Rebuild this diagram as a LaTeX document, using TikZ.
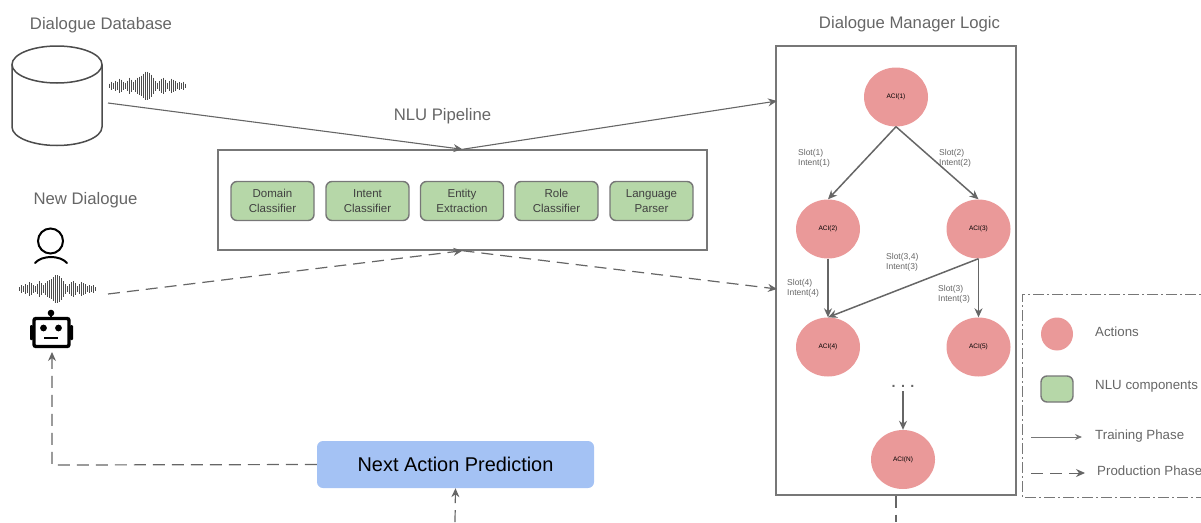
\documentclass[tikz,border=0pt]{standalone}
\usepackage{fontspec}
\setmainfont{Liberation Sans}
\usetikzlibrary{arrows.meta,shapes.geometric}
\definecolor{actfill}{HTML}{EA9999}
\definecolor{nlufill}{HTML}{B6D7A8}
\definecolor{predfill}{HTML}{A4C2F4}
\definecolor{linegray}{HTML}{666666}
\definecolor{framegray}{HTML}{777777}
\definecolor{textgray}{HTML}{666666}
\tikzset{
  title/.style={text=textgray, font=\fontsize{16.7}{20}\selectfont},
  slotlabel/.style={text=textgray, align=left, anchor=west, inner sep=0pt, font=\fontsize{8.5}{10.4}\selectfont},
  action/.style={ellipse, fill=actfill, inner sep=0pt, minimum width=64pt, minimum height=59pt, font=\fontsize{6.5}{8}\selectfont},
  nlubox/.style={draw=framegray, line width=1.4pt, rounded corners=6pt, fill=nlufill, minimum width=83pt, minimum height=39pt, inner sep=0pt, align=center, text=black!75, font=\fontsize{11.5}{14.5}\selectfont},
  frame/.style={draw=framegray, line width=1.4pt, inner sep=0pt},
  train/.style={draw=linegray, line width=1.1pt, -{Stealth[length=9pt,width=8pt]}},
  prod/.style={draw=linegray, line width=1.2pt, dash pattern=on 12pt off 7pt, -{Stealth[length=9pt,width=8pt]}},
  legendtext/.style={text=textgray, anchor=west, inner sep=0pt, font=\fontsize{13.3}{16}\selectfont},
  wave/.pic={
    \foreach \dx/\amp in {-38/2,-36/4,-34/3,-32/5,-30/4,-28/7,-26/6,-24/4,-22/3,-20/5,-18/8,-16/6,-14/4,-12/6,-10/8,-8/9,-6/10,-4/12,-2/14,0/14,2/13,4/11,6/8,8/5,10/3,12/5,14/7,16/8,18/6,20/3,22/5,24/7,26/6,28/5,30/3,32/4,34/3,36/4,38/2}
      \draw[black!70, line width=0.85pt] (\dx,-\amp) -- (\dx,\amp);
  }
}
\begin{document}
\begin{tikzpicture}[x=1pt,y=-1pt]
\useasboundingbox (0,0) rectangle (1201,522);
\node[title] (dbtitle) at (101,25.5) {Dialogue Database};
\node[title] (newtitle) at (85.5,200) {New Dialogue};
\node[title] (pipetitle) at (442.5,116) {NLU Pipeline};
\node[title] (mgrtitle) at (909.5,24) {Dialogue Manager Logic};
\draw[black!70, line width=1.5pt] (12,64.5) -- (12,127) arc[start angle=180, end angle=360, x radius=45pt, y radius=18.5pt] -- (102,64.5);
\draw[black!70, line width=1.5pt] (57,64.5) ellipse[x radius=45pt, y radius=18.5pt];
\pic at (147,85.5) {wave};
\pic at (57,289) {wave};
\draw[black, line width=2pt] (50.5,241) circle[radius=12.5pt];
\draw[black, line width=2pt, line cap=round] (35,263) .. controls (42,255) and (60,255) .. (67,263);
\draw[black, line width=3.4pt, rounded corners=2pt] (34,318.5) rectangle (69,346.5);
\fill[black, rounded corners=1pt] (30,325) rectangle (33,340);
\fill[black, rounded corners=1pt] (70,325) rectangle (73,340);
\fill[black] (51,313) circle[radius=3.3pt];
\draw[black, line width=2.4pt] (51,315) -- (51,318);
\fill[black] (43.5,328) circle[radius=3.4pt];
\fill[black] (58.5,328) circle[radius=3.4pt];
\draw[black, line width=2.4pt] (44,338) -- (58,338);
\node[frame, minimum width=489pt, minimum height=100pt] (pipeline) at (462.5,200) {};
\node[nlubox] (domain) at (272.5,201) {Domain\\Classifier};
\node[nlubox] (intent) at (367.5,201) {Intent\\Classifier};
\node[nlubox] (entity) at (462,201) {Entity\\Extraction};
\node[nlubox] (role) at (556.5,201) {Role\\Classifier};
\node[nlubox] (parser) at (651.5,201) {Language\\Parser};
\node[frame, minimum width=240pt, minimum height=449pt] (manager) at (896,270.5) {};
\node[action] (aci1) at (896,97) {ACI(1)};
\node[action] (aci2) at (828,229) {ACI(2)};
\node[action] (aci3) at (978.5,229) {ACI(3)};
\node[action] (aci4) at (828,347) {ACI(4)};
\node[action] (aci5) at (978.5,347) {ACI(5)};
\node[action] (acin) at (903,459.5) {ACI(N)};
\node[font=\fontsize{14.4}{16}\selectfont\bfseries, text=linegray, inner sep=0pt] (dots) at (903,386) {. . .};
\coordinate (dbout) at (108,103);
\coordinate (mgrin) at (777,101);
\coordinate (newout) at (108,294);
\coordinate (mgrprod) at (777,289);
\coordinate (dotsend) at (903,391);
\coordinate (robotin) at (52,352);
\coordinate (predcorner) at (52,465);
\coordinate (predin) at (455,522);
\coordinate (mgrout) at (896,522);
\draw[train] (dbout) -- (pipeline.north);
\draw[train] (pipeline.north) -- (mgrin);
\draw[prod] (newout) -- (pipeline.south);
\draw[prod] (pipeline.south) -- (mgrprod);
\draw[train, line width=1.5pt] (aci1.south) -- (aci2.north);
\draw[train, line width=1.5pt] (aci1.south) -- (aci3.north);
\draw[train, line width=1.5pt] (aci2.south) -- (aci4.north);
\draw[train, line width=1.5pt] (aci3.south) -- (aci4.north);
\draw[train, line width=1.5pt] (aci3.south) -- (aci5.north);
\draw[train, line width=1.5pt] (dotsend) -- (acin.north);
\node[slotlabel] (slot1) at (798,158.5) {Slot(1)\\Intent(1)};
\node[slotlabel] (slot2) at (939,158.5) {Slot(2)\\Intent(2)};
\node[slotlabel] (slot34) at (886,262) {Slot(3,4)\\Intent(3)};
\node[slotlabel] (slot4) at (787,288) {Slot(4)\\Intent(4)};
\node[slotlabel] (slot3) at (938,294) {Slot(3)\\Intent(3)};
\node[rounded corners=6pt, fill=predfill, minimum width=277pt, minimum height=47pt, inner sep=0pt, font=\fontsize{19.9}{23}\selectfont] (predict) at (455.5,464.5) {Next Action Prediction};
\draw[prod] (predict.west) -- (predcorner) -- (robotin);
\draw[prod] (predin) -- (predict.south);
\draw[draw=linegray, line width=1.2pt, dash pattern=on 12pt off 7pt] (manager.south -| mgrout) -- (mgrout);
\draw[draw=framegray, line width=0.9pt, dash pattern=on 11pt off 3pt on 2pt off 3pt] (1215,294) -- (1022,294) -- (1022,497) -- (1215,497);
\node[ellipse, fill=actfill, inner sep=0pt, minimum width=32pt, minimum height=33pt] (legact) at (1057,334) {};
\node[nlubox, minimum width=32pt, minimum height=26pt] (legnlu) at (1057,389) {};
\node[legendtext] (legacttext) at (1095,331.5) {Actions};
\node[legendtext] (legnlutext) at (1095,386.5) {NLU components};
\node[legendtext] (legtraintext) at (1095,436.5) {Training Phase};
\node[legendtext] (legprodtext) at (1097,470.5) {Production Phase};
\coordinate (legtrain1) at (1031,437);
\coordinate (legtrain2) at (1082,437);
\coordinate (legprod1) at (1031,473);
\coordinate (legprod2) at (1085,473);
\draw[draw=framegray, line width=1pt, -{Stealth[length=7pt,width=6pt]}] (legtrain1) -- (legtrain2);
\draw[prod, line width=1pt] (legprod1) -- (legprod2);
\end{tikzpicture}
\end{document}
